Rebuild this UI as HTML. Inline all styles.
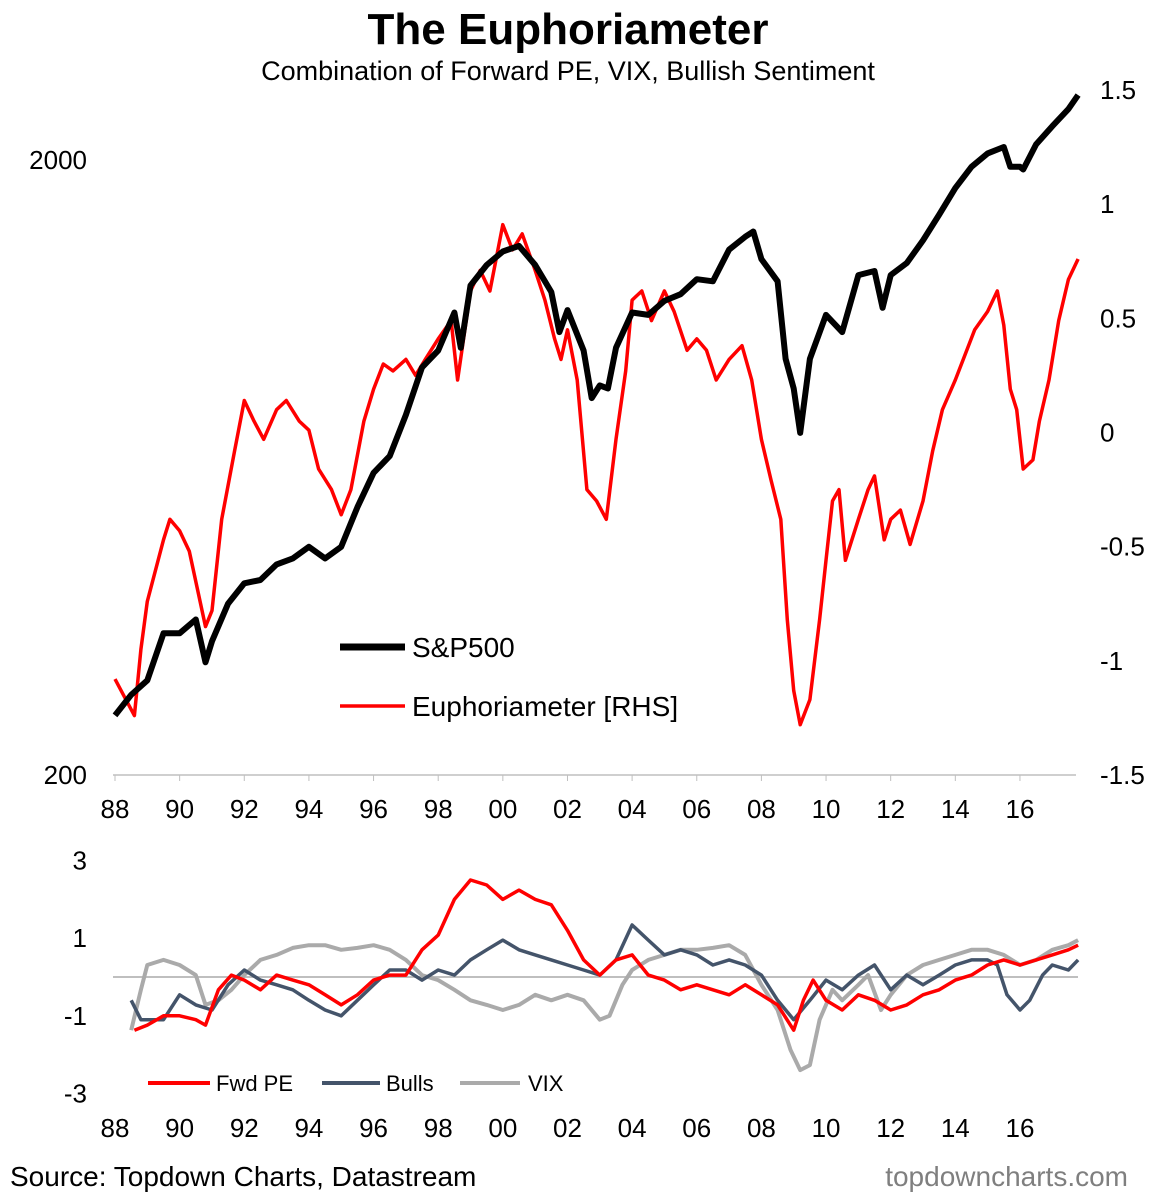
<!DOCTYPE html>
<html><head><meta charset="utf-8"><style>
body{margin:0;background:#fff;}
svg{display:block;font-family:"Liberation Sans",Arial,sans-serif;}
</style></head><body>
<svg id="c" width="1153" height="1200" viewBox="0 0 1153 1200">
<text x="568" y="44" font-size="44" font-weight="bold" text-anchor="middle">The Euphoriameter</text>
<text x="568" y="80" font-size="27" text-anchor="middle">Combination of Forward PE, VIX, Bullish Sentiment</text>
<g id="topg"></g>
<g id="botg"></g>
<line x1="340" y1="647" x2="405" y2="647" stroke="#000" stroke-width="7"/>
<text x="412" y="657" font-size="28">S&amp;P500</text>
<line x1="340" y1="706" x2="405" y2="706" stroke="#f00" stroke-width="3.5"/>
<text x="412" y="716" font-size="28">Euphoriameter [RHS]</text>
<line x1="148" y1="1083" x2="210" y2="1083" stroke="#f00" stroke-width="4"/>
<text x="216" y="1091" font-size="22">Fwd PE</text>
<line x1="322" y1="1083" x2="380" y2="1083" stroke="#44546a" stroke-width="4"/>
<text x="386" y="1091" font-size="22">Bulls</text>
<line x1="460" y1="1083" x2="520" y2="1083" stroke="#aaa" stroke-width="4"/>
<text x="528" y="1091" font-size="22">VIX</text>
<text x="10" y="1186" font-size="28">Source: Topdown Charts, Datastream</text>
<text x="1128" y="1186" font-size="28" fill="#7f7f7f" text-anchor="end">topdowncharts.com</text>
</svg>
<script>
const spDates=[88.0,88.5,89.0,89.5,90.0,90.5,90.8,91.0,91.5,92.0,92.5,93.0,93.5,94.0,94.5,95.0,95.5,96.0,96.5,97.0,97.5,98.0,98.5,98.7,99.0,99.5,100.0,100.5,101.0,101.5,101.75,102.0,102.5,102.75,103.0,103.25,103.5,104.0,104.5,105.0,105.5,106.0,106.5,107.0,107.5,107.75,108.0,108.5,108.75,109.0,109.2,109.5,110.0,110.5,111.0,111.5,111.75,112.0,112.5,113.0,113.5,114.0,114.5,115.0,115.5,115.7,116.0,116.1,116.5,117.0,117.5,117.8];
const spValues=[250,270,285,340,340,358,305,330,380,410,415,440,450,470,450,470,545,620,660,770,920,980,1130,990,1250,1350,1420,1450,1350,1220,1050,1140,980,820,860,850,990,1130,1120,1180,1210,1280,1270,1430,1500,1530,1380,1270,950,850,720,950,1120,1050,1300,1320,1150,1300,1360,1480,1630,1800,1950,2050,2100,1950,1950,1930,2120,2270,2420,2550];
const euDates=[88.0,88.6,88.8,89.0,89.5,89.7,90.0,90.3,90.8,91.0,91.3,91.7,92.0,92.3,92.6,93.0,93.3,93.7,94.0,94.3,94.7,95.0,95.3,95.7,96.0,96.3,96.6,97.0,97.3,97.6,98.0,98.4,98.6,99.0,99.3,99.6,100.0,100.3,100.6,101.0,101.3,101.6,101.8,102.0,102.3,102.6,102.9,103.2,103.5,103.8,104.0,104.3,104.6,105.0,105.3,105.7,106.0,106.3,106.6,107.0,107.4,107.7,108.0,108.3,108.6,108.8,109.0,109.2,109.5,109.8,110.0,110.2,110.4,110.6,111.0,111.3,111.5,111.8,112.0,112.3,112.6,113.0,113.3,113.6,114.0,114.3,114.6,115.0,115.3,115.5,115.7,115.9,116.1,116.4,116.6,116.9,117.2,117.5,117.8];
const euValues=[-1.08,-1.24,-0.95,-0.74,-0.47,-0.38,-0.43,-0.52,-0.85,-0.78,-0.38,-0.08,0.14,0.05,-0.03,0.1,0.14,0.05,0.01,-0.16,-0.25,-0.36,-0.25,0.05,0.19,0.30,0.27,0.32,0.25,0.32,0.41,0.49,0.23,0.62,0.71,0.62,0.91,0.8,0.87,0.71,0.58,0.41,0.32,0.45,0.23,-0.25,-0.30,-0.38,-0.03,0.27,0.58,0.62,0.49,0.62,0.53,0.36,0.41,0.36,0.23,0.32,0.38,0.23,-0.03,-0.21,-0.38,-0.82,-1.13,-1.28,-1.17,-0.82,-0.56,-0.3,-0.25,-0.56,-0.38,-0.25,-0.19,-0.47,-0.38,-0.34,-0.49,-0.3,-0.08,0.1,0.23,0.34,0.45,0.53,0.62,0.47,0.19,0.1,-0.16,-0.12,0.05,0.23,0.49,0.67,0.76];
const peDates=[88.6,89.0,89.5,90.0,90.5,90.8,91.2,91.6,92.0,92.5,93.0,93.5,94.0,94.5,95.0,95.5,96.0,96.5,97.0,97.5,98.0,98.5,99.0,99.5,100.0,100.5,101.0,101.5,102.0,102.5,103.0,103.5,104.0,104.5,105.0,105.5,106.0,106.5,107.0,107.5,108.0,108.5,109.0,109.3,109.6,110.0,110.5,111.0,111.5,112.0,112.5,113.0,113.5,114.0,114.5,115.0,115.5,116.0,116.5,117.0,117.5,117.8];
const peValues=[-1.37,-1.24,-1.0,-1.0,-1.1,-1.24,-0.33,0.05,-0.08,-0.33,0.05,-0.08,-0.2,-0.46,-0.72,-0.46,-0.08,0.05,0.05,0.7,1.08,2.0,2.5,2.37,2.0,2.24,2.0,1.86,1.2,0.44,0.05,0.44,0.57,0.05,-0.08,-0.33,-0.2,-0.33,-0.46,-0.2,-0.46,-0.72,-1.37,-0.6,-0.08,-0.6,-0.85,-0.46,-0.6,-0.85,-0.72,-0.46,-0.33,-0.08,0.05,0.31,0.44,0.31,0.44,0.57,0.7,0.82];
const bullDates=[88.5,88.8,89.5,90.0,90.5,91.0,91.5,92.0,92.5,93.0,93.5,94.0,94.5,95.0,95.5,96.0,96.5,97.0,97.5,98.0,98.5,99.0,99.5,100.0,100.5,101.0,101.5,102.0,102.5,103.0,103.5,104.0,104.5,105.0,105.5,106.0,106.5,107.0,107.5,108.0,108.5,109.0,109.5,110.0,110.5,111.0,111.5,112.0,112.5,113.0,113.5,114.0,114.5,115.0,115.3,115.6,116.0,116.3,116.7,117.0,117.5,117.8];
const bullValues=[-0.6,-1.1,-1.1,-0.46,-0.72,-0.85,-0.2,0.18,-0.08,-0.2,-0.33,-0.6,-0.85,-1.0,-0.6,-0.2,0.18,0.18,-0.08,0.18,0.05,0.44,0.7,0.95,0.7,0.57,0.44,0.31,0.18,0.05,0.44,1.34,0.95,0.57,0.7,0.57,0.31,0.44,0.31,0.05,-0.6,-1.1,-0.6,-0.08,-0.33,0.05,0.31,-0.33,0.05,-0.2,0.05,0.31,0.44,0.44,0.31,-0.46,-0.85,-0.6,0.05,0.31,0.18,0.44];
const vixDates=[88.5,88.8,89.0,89.5,90.0,90.5,90.8,91.2,91.6,92.0,92.5,93.0,93.5,94.0,94.5,95.0,95.5,96.0,96.5,97.0,97.5,98.0,98.5,99.0,99.5,100.0,100.5,101.0,101.5,102.0,102.5,103.0,103.3,103.7,104.0,104.5,105.0,105.5,106.0,106.5,107.0,107.5,108.0,108.5,108.9,109.2,109.5,109.8,110.2,110.5,111.0,111.3,111.7,112.0,112.5,113.0,113.5,114.0,114.5,115.0,115.5,116.0,116.5,117.0,117.5,117.8];
const vixValues=[-1.37,-0.33,0.31,0.44,0.31,0.05,-0.72,-0.6,-0.33,0.05,0.44,0.57,0.75,0.82,0.82,0.7,0.75,0.82,0.7,0.44,0.05,-0.08,-0.33,-0.6,-0.72,-0.85,-0.72,-0.46,-0.6,-0.46,-0.6,-1.1,-1.0,-0.2,0.18,0.44,0.57,0.7,0.7,0.75,0.82,0.57,-0.2,-0.85,-1.88,-2.4,-2.27,-1.1,-0.33,-0.6,-0.2,0.05,-0.85,-0.46,0.05,0.31,0.44,0.57,0.7,0.7,0.57,0.31,0.44,0.7,0.82,0.95];
const xTickLabels=["88","90","92","94","96","98","00","02","04","06","08","10","12","14","16"];
const rightTicks=[1.5,1,0.5,0,-0.5,-1,-1.5];
const leftTicks=[200,2000];
const botTicks=[3,1,-1,-3];

const NS="http://www.w3.org/2000/svg";
function mk(parent,tag,attrs){const e=document.createElementNS(NS,tag);for(const k in attrs)e.setAttribute(k,attrs[k]);parent.appendChild(e);return e;}
const xS=d=>115+(d-88)*32.32;
const yL=v=>775-Math.log10(v/200)*615;
const yR=v=>432.5-v*228.3;
const yB=v=>977-v*38.8;
function path(ds,vs,f){return ds.map((d,i)=>(i?'L':'M')+xS(d).toFixed(1)+','+f(vs[i]).toFixed(1)).join('');}

const topG=document.getElementById('topg'),botG=document.getElementById('botg');
let ax=mk(topG,'line',{x1:113,y1:775,x2:1076,y2:775,stroke:'#bfbfbf','stroke-width':1.5});


xTickLabels.forEach((l,i)=>{
 const x=xS(88+2*i);
 const t=mk(topG,'line',{x1:x,y1:775,x2:x,y2:781,stroke:'#bfbfbf'});
 
 
 const tx=mk(topG,'text',{x:x,y:818,'font-size':26,'text-anchor':'middle'});tx.textContent=l;
 
 
 const b=mk(botG,'text',{x:x,y:1137,'font-size':26,'text-anchor':'middle'});b.textContent=l;
 
 
});
leftTicks.forEach(v=>{
 const t=mk(topG,'text',{x:87,y:yL(v)+9,'font-size':26,'text-anchor':'end'});t.textContent=v;
 
 
});
rightTicks.forEach(v=>{
 const t=mk(topG,'text',{x:1100,y:yR(v)+9,'font-size':26});t.textContent=v;
 
 
});
let eu=mk(topG,'path',{d:path(euDates,euValues,yR),fill:'none',stroke:'#f00','stroke-width':3.5,'stroke-linejoin':'round'});


let sp=mk(topG,'path',{d:path(spDates,spValues,yL),fill:'none',stroke:'#000','stroke-width':6,'stroke-linejoin':'round'});


let z=mk(botG,'line',{x1:113,y1:yB(0),x2:1078,y2:yB(0),stroke:'#bfbfbf','stroke-width':2});


botTicks.forEach(v=>{
 const t=mk(botG,'text',{x:87,y:yB(v)+9,'font-size':26,'text-anchor':'end'});t.textContent=v;
 
 
});
let vx=mk(botG,'path',{d:path(vixDates,vixValues,yB),fill:'none',stroke:'#aaa','stroke-width':4,'stroke-linejoin':'round'});


let bl=mk(botG,'path',{d:path(bullDates,bullValues,yB),fill:'none',stroke:'#44546a','stroke-width':3.5,'stroke-linejoin':'round'});


let pe=mk(botG,'path',{d:path(peDates,peValues,yB),fill:'none',stroke:'#f00','stroke-width':3.5,'stroke-linejoin':'round'});


</script>
</body></html>
